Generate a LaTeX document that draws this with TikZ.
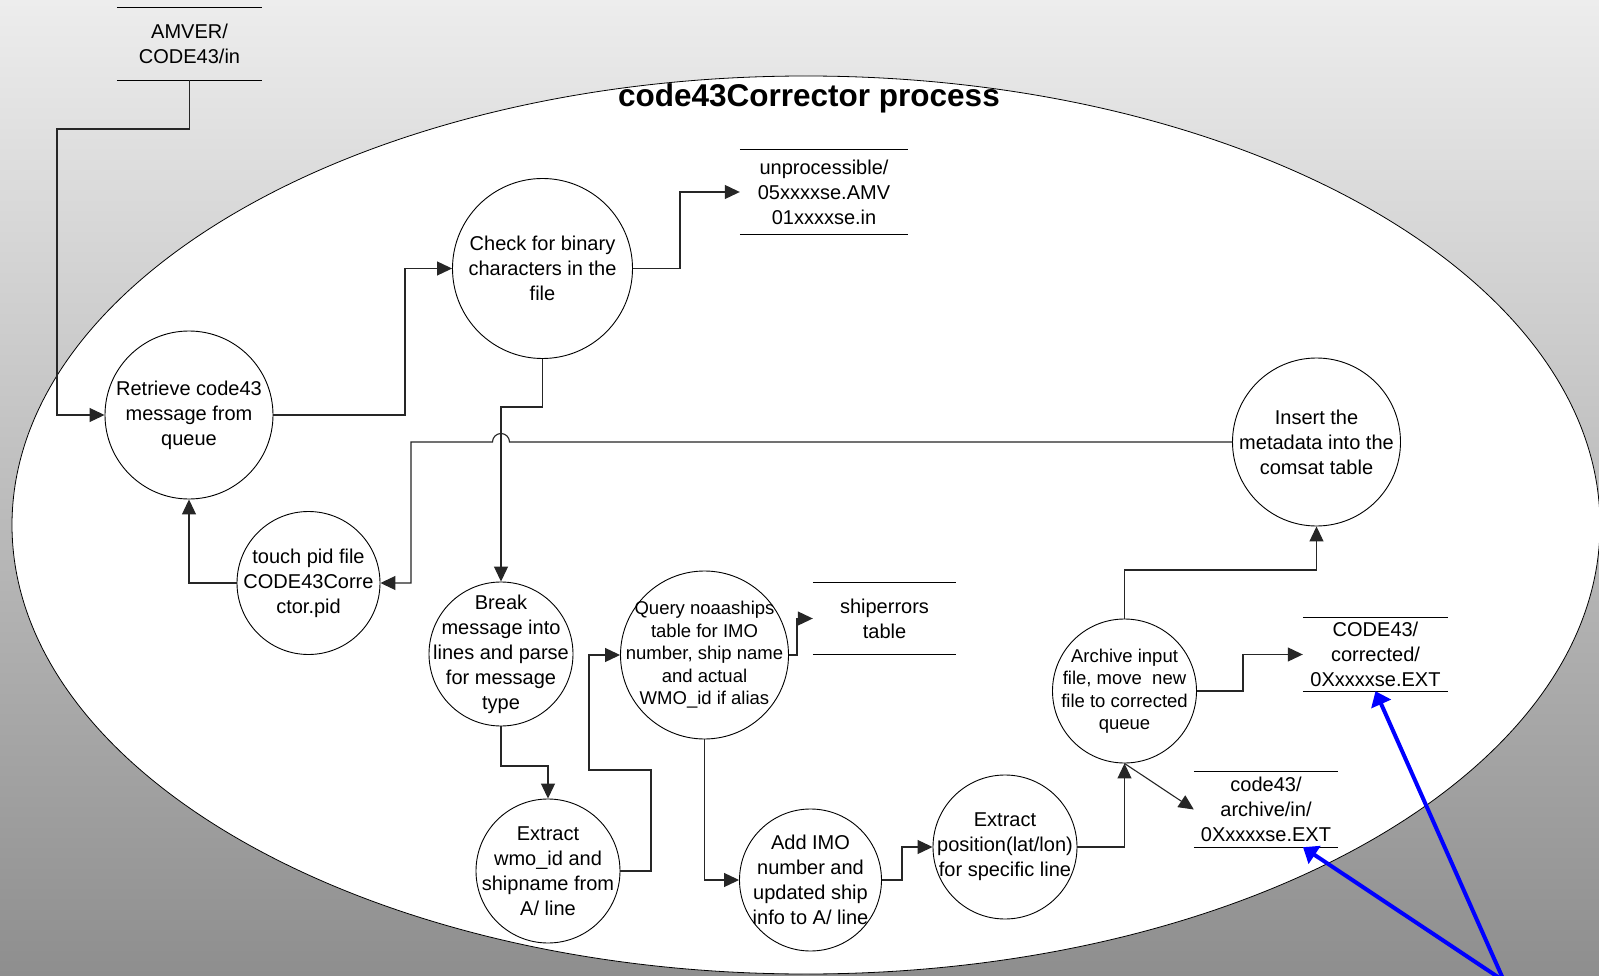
\documentclass[tikz,border=0pt]{standalone}
\usepackage{fontspec}
\setmainfont{Liberation Sans}
\usetikzlibrary{arrows.meta}
\definecolor{bgtop}{RGB}{237,237,237}
\definecolor{bgbot}{RGB}{142,142,142}
\definecolor{ptrblue}{RGB}{0,0,255}
\begin{document}
\begin{tikzpicture}[x=1pt,y=-1pt,
  proc/.style={circle,draw=black,line width=0.9pt,fill=white,inner sep=0pt,minimum size=#1},
  lab/.style={align=center,inner sep=0pt,font=\fontsize{20}{25}\selectfont},
  labsmall/.style={align=center,inner sep=0pt,font=\fontsize{18.5}{22.5}\selectfont},
  store/.style={inner sep=0pt,align=center,font=\fontsize{20}{25}\selectfont},
  storeline/.style={line width=1pt,black},
  conn/.style={line width=1.1pt,black!85,-{Triangle[length=15pt,width=14pt]}},
  pointer/.style={line width=4pt,ptrblue,-{Triangle[length=14pt,width=21pt]}}
]
\useasboundingbox (0,0) rectangle (1599,976);
\fill[top color=bgtop,bottom color=bgbot] (0,0) rectangle (1599,976);
\draw[fill=white,line width=0.8pt] (806,525) ellipse [x radius=794pt, y radius=449pt];

\node[font=\bfseries\fontsize{31.5}{31.5}\selectfont,anchor=base,inner sep=0pt] (title) at (809,107) {code43Corrector process};

% processes
\node[proc=168pt,label={[lab]center:{Retrieve code43\\message from\\queue}}] (retrieve) at (189,415) {};
\node[proc=180pt,label={[lab]center:{Check for binary\\characters in the\\file}}] (check) at (542.5,268.5) {};
\node[proc=143pt,label={[lab]center:{touch pid file\\CODE43Corre\\ctor.pid}}] (touch) at (308.5,583) {};
\node[proc=168pt,label={[lab]center:{Insert the\\metadata into the\\comsat table}}] (insert) at (1316.5,442) {};
\node[proc=144pt,label={[lab]center:{Break\\message into\\lines and parse\\for message\\type}}] (break) at (501,654) {};
\node[proc=168pt,label={[labsmall]center:{Query noaaships\\table for IMO\\number, ship name\\and actual\\WMO\_id if alias}}] (query) at (704.5,655) {};
\node[proc=144pt,label={[lab]center:{Extract\\wmo\_id and\\shipname from\\A/ line}}] (extwmo) at (548,871) {};
\node[proc=142pt,label={[lab]center:{Add IMO\\number and\\updated ship\\info to A/ line}}] (addimo) at (810.5,880) {};
\node[proc=144pt,label={[lab]center:{Extract\\position(lat/lon)\\for specific line}}] (extpos) at (1005,847) {};
\node[proc=144pt,label={[labsmall]center:{Archive input\\file, move\ \ new\\file to corrected\\queue}}] (archive) at (1124.5,691) {};

% data stores
\node[store,minimum width=145pt,minimum height=72pt] (amver) at (189.5,44) {AMVER/\\CODE43/in};
\node[store,minimum width=168pt,minimum height=84pt] (unproc) at (824,192) {unprocessible/\\05xxxxse.AMV\\01xxxxse.in};
\node[store,minimum width=143pt,minimum height=71pt] (shiperr) at (884.5,618.5) {shiperrors\\table};
\node[store,minimum width=145pt,minimum height=73pt] (corrected) at (1375.5,654.5) {CODE43/\\corrected/\\0Xxxxxse.EXT};
\node[store,minimum width=144pt,minimum height=75pt] (archstore) at (1266,809.5) {code43/\\archive/in/\\0Xxxxxse.EXT};
\foreach \s in {amver,unproc,shiperr,corrected,archstore}{
  \draw[storeline] (\s.north west) -- (\s.north east) (\s.south west) -- (\s.south east);
}

% connectors
\draw[conn] (amver.south) |- (57,129) |- (retrieve.west);
\draw[conn] (retrieve.east) -- (405,415) |- (check.west);
\draw[conn] (check.east) -- (680,268.5) |- (unproc.west);
\draw[conn] (insert.west) -- (509.5,442) arc[start angle=0,end angle=180,radius=8.5pt] -- (411,442) |- (touch.east);
\draw[conn] (check.south) |- (501,407) -- (break.north);
\draw[conn] (touch.west) -| (retrieve.south);
\draw[conn] (break.south) |- (548,766) -- (extwmo.north);
\draw[conn] (extwmo.east) -- (651,871) |- (589,770) |- (query.west);
\draw[conn] (query.east) -- (797,655) |- (shiperr.west);
\draw[conn] (query.south) |- (addimo.west);
\draw[conn] (addimo.east) -- (902,880) |- (extpos.west);
\draw[conn] (extpos.east) -| (archive.south);
\draw[conn] (archive.south) -- (archstore.west);
\draw[conn] (archive.east) -- (1243,691) |- (corrected.west);
\draw[conn] (archive.north) -- (1124.5,570) -| (insert.south);

% blue pointers
\coordinate (pointsrc) at (1504,981);
\draw[pointer] (pointsrc) -- (corrected.south);
\draw[pointer] (pointsrc) -- ([xshift=37pt]archstore.south);
\end{tikzpicture}
\end{document}
